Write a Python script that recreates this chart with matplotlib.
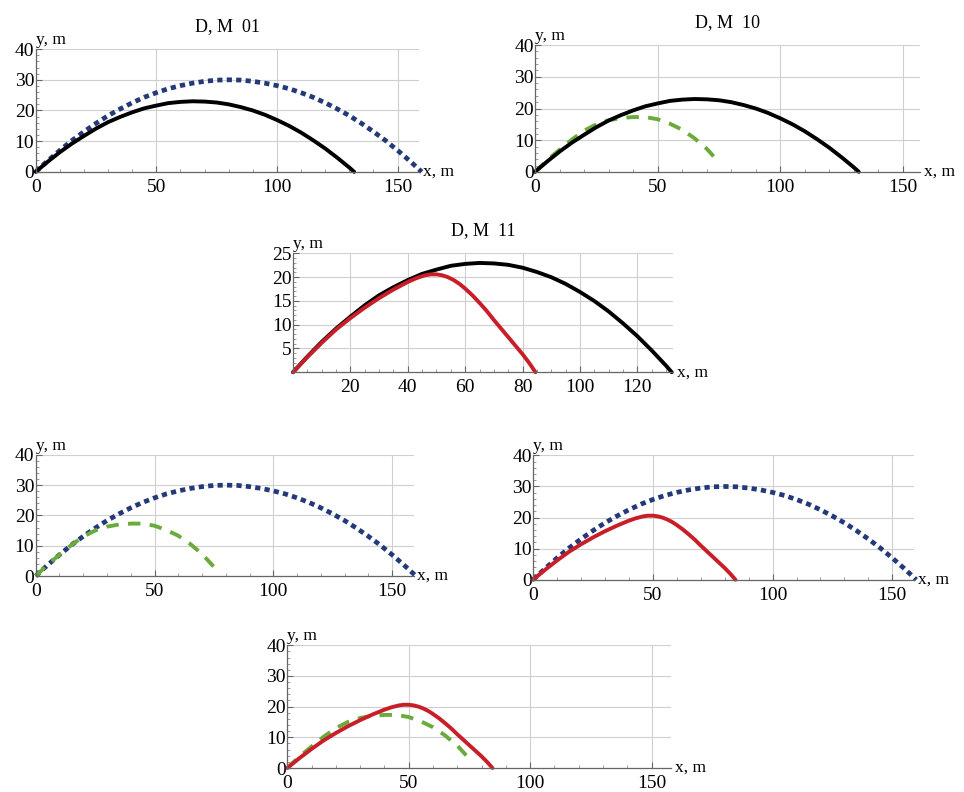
import matplotlib
matplotlib.use("Agg")
import matplotlib.pyplot as plt
from matplotlib.ticker import MultipleLocator

plt.rcParams['font.family'] = ['Liberation Serif', 'DejaVu Serif']

# trajectories (x, m ; y, m)
black_x = [0, 5, 10, 15, 20, 25, 30, 35, 40, 45, 50, 55, 60, 65, 70, 75, 80,
           85, 90, 95, 100, 105, 110, 115, 120, 125, 130, 132]
black_y = [0, 3.3, 6.4, 9.2, 11.7, 14.1, 16.2, 17.9, 19.4, 20.7, 21.6, 22.4, 22.8, 23.0,
           22.9, 22.6, 22.0, 21.1, 20.0, 18.6, 16.9, 15.0, 12.8, 10.3, 7.6, 4.6, 1.4, 0]

blue_x = [0, 5, 10, 15, 20, 25, 30, 35, 40, 45, 50, 55, 60, 65, 70, 75, 80,
          85, 90, 95, 100, 105, 110, 115, 120, 125, 130, 135, 140, 145, 150, 155, 160]
blue_y = [0, 3.6, 7.0, 10.2, 13.1, 15.8, 18.3, 20.5, 22.5, 24.3, 25.8, 27.1, 28.1, 28.9,
          29.5, 29.9, 30.0, 29.9, 29.5, 28.9, 28.1, 27.1, 25.8, 24.3, 22.5, 20.5, 18.3,
          15.8, 13.1, 10.2, 7.0, 3.6, 0]

green_x = [0, 5, 10, 15, 20, 25, 30, 35, 40, 45, 50, 55, 60, 65, 70, 75]
green_y = [0, 3.7, 7.0, 10.2, 13.0, 15.0, 16.3, 17.0, 17.3, 17.3, 16.6, 15.2, 13.3, 10.6, 7.3, 3.0]

red_x = [0, 5, 10, 15, 20, 25, 30, 35, 40, 43, 46, 48, 50, 52, 54, 56, 58, 60,
         62.5, 65, 67.5, 70, 72.5, 75, 77.5, 80, 82.5, 84.5]
red_y = [0, 3.2, 6.2, 9.0, 11.4, 13.6, 15.6, 17.4, 19.0, 19.8, 20.4, 20.6, 20.6, 20.4,
         20.0, 19.4, 18.6, 17.6, 16.2, 14.6, 12.9, 11.0, 9.2, 7.4, 5.6, 3.8, 1.8, 0]

titles = ["D, M  01", "D, M  10", "D, M  11"]

BLACK = dict(color="black", lw=2.8, solid_capstyle="round", solid_joinstyle="round")
BLUE = dict(color="#23397a", lw=3.4, dashes=(1.1, 0.9), dash_capstyle="butt")
GREEN = dict(color="#6aab3c", lw=2.8, dashes=(3.2, 2.4), dash_capstyle="butt")
RED = dict(color="#c81e28", lw=2.8, solid_capstyle="round", solid_joinstyle="round")

fig = plt.figure(figsize=(9.64, 7.92), dpi=100)


def panel(rect, xmax, ymax, xmaj, ymaj, xmin_, ymin_, title=None, hide_zero=False):
    ax = fig.add_axes(rect)
    ax.set_xlim(0, xmax)
    ax.set_ylim(0, ymax)
    ax.xaxis.set_major_locator(MultipleLocator(xmaj))
    ax.yaxis.set_major_locator(MultipleLocator(ymaj))
    ax.xaxis.set_minor_locator(MultipleLocator(xmin_))
    ax.yaxis.set_minor_locator(MultipleLocator(ymin_))
    ax.grid(True, which="major", color="#cfcfcf", lw=0.8)
    for s in ["top", "right"]:
        ax.spines[s].set_visible(False)
    for s in ["left", "bottom"]:
        ax.spines[s].set_color("#666666")
        ax.spines[s].set_linewidth(0.9)
    ax.tick_params(which="major", direction="in", length=4, width=0.8,
                   color="#666666", labelsize=14)
    ax.tick_params(axis="x", which="major", pad=5)
    ax.tick_params(axis="y", which="major", pad=1)
    ax.tick_params(which="minor", direction="in", length=2, width=0.6, color="#888888")
    if hide_zero:
        ax.set_xticks([t for t in range(xmaj, int(xmax) + 1, xmaj)])
        ax.set_yticks([t for t in range(ymaj, int(ymax) + 1, ymaj)])
    ax.text(0.0, 1.01, "y, m", transform=ax.transAxes, fontsize=12.5,
            ha="left", va="bottom")
    ax.text(1.01, 0.0, "x, m", transform=ax.transAxes, fontsize=12.5,
            ha="left", va="center")
    if title:
        ax.set_title(title, fontsize=13, pad=13)
    return ax


# top left
ax1 = panel([0.037, 0.783, 0.398, 0.155], 159, 40, 50, 10, 10, 2, titles[0])
ax1.plot(blue_x, blue_y, clip_on=False, **BLUE)
ax1.plot(black_x, black_y, clip_on=False, **BLACK)

# top right
ax2 = panel([0.555, 0.783, 0.3995, 0.160], 157, 40, 50, 10, 10, 2, titles[1])
ax2.plot(green_x, green_y, clip_on=False, **GREEN)
ax2.plot(black_x, black_y, clip_on=False, **BLACK)

# middle
ax3 = panel([0.304, 0.530, 0.394, 0.150], 132.4, 25, 20, 5, 5, 1, titles[2], hide_zero=True)
ax3.plot(black_x, black_y, clip_on=False, **BLACK)
ax3.plot(red_x, red_y, clip_on=False, **RED)

# bottom left
ax4 = panel([0.037, 0.2727, 0.392, 0.153], 159, 40, 50, 10, 10, 2)
ax4.plot(blue_x, blue_y, clip_on=False, **BLUE)
ax4.plot(green_x, green_y, clip_on=False, **GREEN)

# bottom right
ax5 = panel([0.553, 0.268, 0.395, 0.157], 159, 40, 50, 10, 10, 2)
ax5.plot(blue_x, blue_y, clip_on=False, **BLUE)
ax5.plot(red_x, red_y, clip_on=False, **RED)

# bottom centre
ax6 = panel([0.298, 0.0303, 0.398, 0.155], 158, 40, 50, 10, 10, 2)
ax6.plot(green_x, green_y, clip_on=False, **GREEN)
ax6.plot(red_x, red_y, clip_on=False, **RED)

fig.savefig("out.png", dpi=100)
